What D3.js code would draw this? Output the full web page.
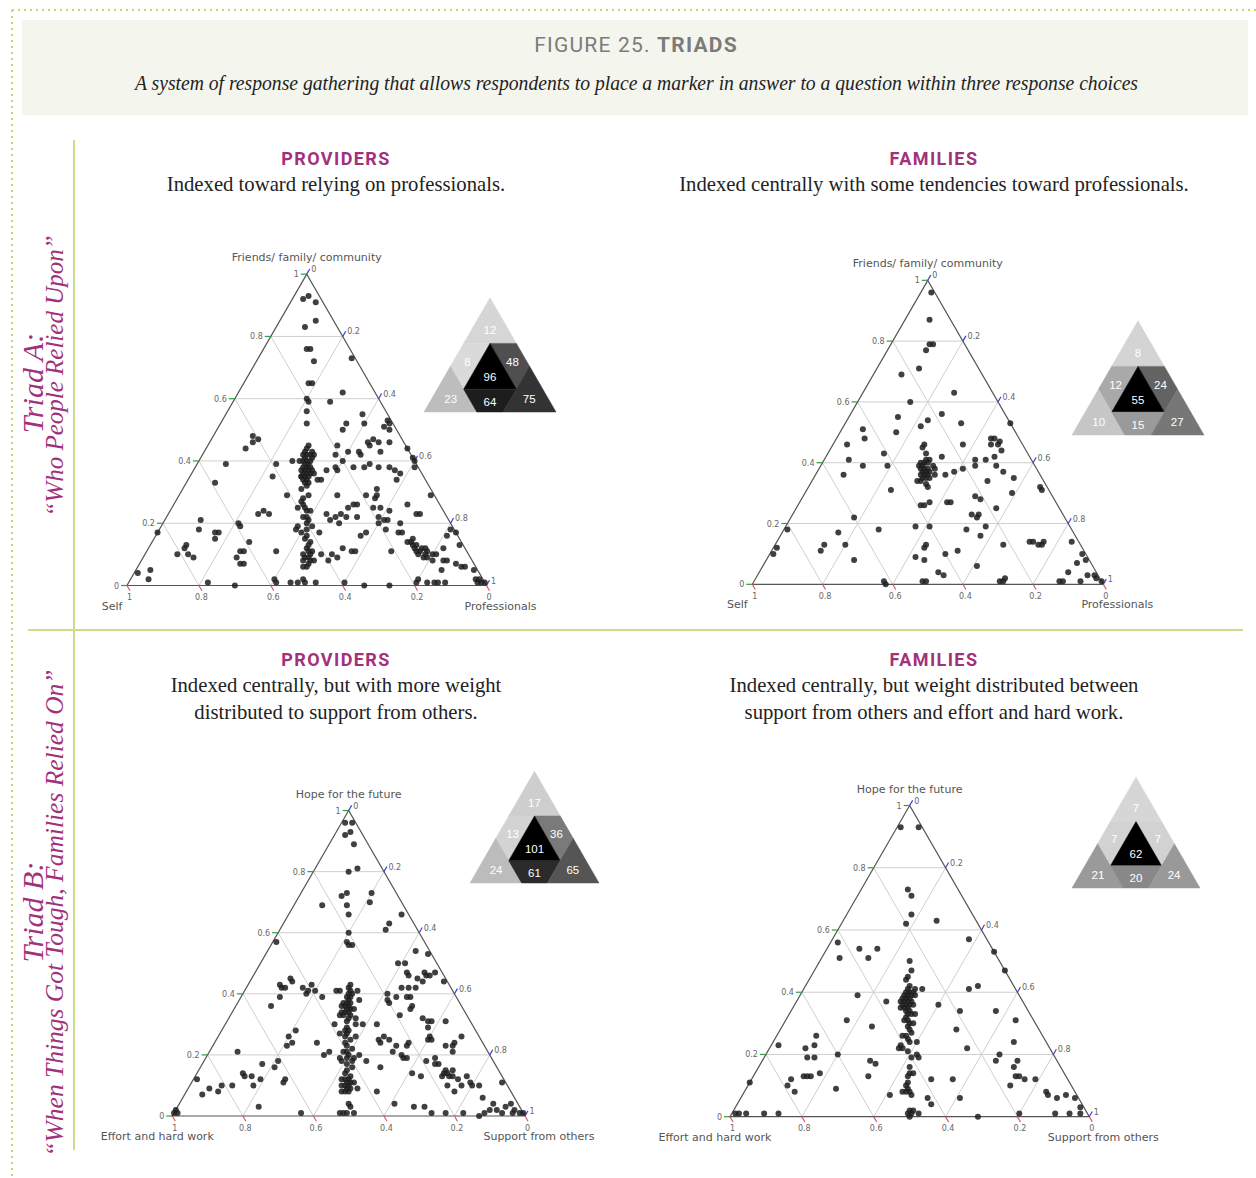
<!DOCTYPE html>
<html>
<head>
<meta charset="utf-8">
<script src="https://cdnjs.cloudflare.com/ajax/libs/d3/7.8.5/d3.min.js"></script>
<style>
  html, body { margin: 0; padding: 0; background: #fff; }
  svg { display: block; }
</style>
</head>
<body>
<svg id="fig"></svg>
<script>
// ---------------------------------------------------------------
// Data: each response is [top share %, right share %]; the left
// share is the remainder (100 - top - right).
// ---------------------------------------------------------------
const tickValues = [0, 0.2, 0.4, 0.6, 0.8, 1];

const triadAAxes = ["Friends/ family/ community", "Self", "Professionals"];
const triadBAxes = ["Hope for the future", "Effort and hard work", "Support from others"];

const rowHeadings = ["PROVIDERS", "FAMILIES"];
const triadADescriptions = [
  ["Indexed toward relying on professionals."],
  ["Indexed centrally with some tendencies toward professionals."]
];
const triadBDescriptions = [
  ["Indexed centrally, but with more weight", "distributed to support from others."],
  ["Indexed centrally, but weight distributed between", "support from others and effort and hard work."]
];

// zone counts: [top corner, left edge, right edge, centre, left corner, bottom edge, right corner]
const providersAZones = [12, 8, 48, 96, 23, 64, 75];
const familiesAZones  = [8, 12, 24, 55, 10, 15, 27];
const providersBZones = [17, 13, 36, 101, 24, 61, 65];
const familiesBZones  = [7, 7, 7, 62, 21, 20, 24];

const providersAPoints = [
  [92,3],[93,4],[91,7],[83,8],[85,10],[76,12],[76,13],[72,16],[65,18],[65,19],[73,26],[62,29],[60,20],[59,21],[59,27],
  [56,22],[52,24],[52,35],[50,35],[55,38],[52,40],[53,46],[52,47],[51,46],[50,48],[46,50],[47,45],[46,44],[45,45],[46,47],
  [43,49],[43,43],[42,44],[43,40],[45,36],[42,37],[40,40],[44,56],[41,59],[40,60],[38,61],[48,11],[47,13],[46,12],[44,11],
  [39,8],[33,8],[35,23],[39,22],[40,26],[40,28],
  [45,28],[43,28],[43,30],[42,28],[42,31],[40,29],[40,31],[38,31],[37,31],[37,32],[36,33],[35,32],[35,33],[36,34],[34,32],
  [33,34],[34,36],[34,37],[35,31],[32,34],[44,28],[42,30],[39,31],[36,31],[37,33],
  [41,29],[40,30],[39,30],[38,30],[38,32],[37,30],[36,32],[35,31],[34,33],[33,33],[42,29],[41,31],
  [37,37],[38,39],[37,40],[38,44],[38,47],[39,48],[38,51],[38,54],[37,56],[34,58],[36,58],[31,54],[29,55],[28,55],[29,52],
  [29,44],[26,50],[26,51],[25,49],[25,56],[25,58],[24,61],[26,65],[29,70],[23,69],[31,33],[29,36],[28,35],[25,37],[25,35],
  [24,38],[24,39],[22,39],[21,40],[22,38],[29,30],[24,26],[23,25],[23,28],[23,44],[22,47],[21,46],[23,48],[22,50],[22,53],
  [20,49],[22,59],[21,61],[21,62],[20,66],[23,70],[20,21],[19,22],[27,35],[26,36],[20,40],
  [21,10],[18,11],[17,16],[17,17],[15,17],[17,0],[13,10],[12,10],[10,9],[10,12],[9,14],[5,4],[4,1],[2,5],[1,22],[0,30],
  [11,26],[11,27],[9,26],[7,29],[7,28],[14,27],[11,36],[2,40],[1,41],[1,45],[1,47],[2,48],[1,49],[1,52],[19,38],[17,40],
  [18,41],[19,42],[17,45],[18,38],[15,42],[14,44],[13,44],[10,44],[9,45],[10,46],[8,47],[8,45],[7,47],[11,46],[10,49],
  [8,48],[6,47],[10,52],[12,54],[11,57],[11,58],[9,54],[8,52],[17,58],[16,57],[20,60],[18,63],[11,68],[17,67],[17,68],
  [16,42],[12,44],[11,45],[9,46],[6,46],
  [14,71],[14,72],[12,74],[13,74],[11,76],[12,76],[10,78],[11,78],[9,79],[10,80],[8,81],[8,84],[10,81],[12,82],[8,85],
  [11,75],[12,77],[10,76],[9,78],
  [16,81],[18,81],[17,83],[13,86],[5,85],[7,88],[6,90],[6,91],[5,94],[2,96],[2,97],[1,98],[1,97],[1,80],[2,80],[1,83],
  [1,85],[1,86],[1,88],[0,66],[0,73],[1,60],[1,99],[15,72],[13,73]
];

const familiesAPoints = [
  [96,3],[87,7],[79,11],[79,12],[77,11],[71,12],[69,8],[63,26],[60,15],[56,26],[54,23],[52,22],[53,33],[55,14],[50,16],
  [51,6],[48,8],[46,4],[41,7],[39,12],[36,8],[43,16],[39,19],[31,24],[46,37],[42,33],[37,39],[36,37],
  [46,26],[45,26],[43,28],[41,29],[41,30],[40,29],[38,29],[37,31],[39,32],[38,33],[36,32],[35,31],[35,33],[34,30],[33,33],
  [32,34],[36,34],[39,28],[40,30],[38,30],[37,30],[36,31],
  [40,28],[39,29],[38,31],[37,32],[36,30],[35,32],[34,31],
  [27,37],[26,35],[26,36],[27,42],[27,43],[29,49],[28,51],[23,51],[23,53],[22,53],[25,57],[19,57],[18,52],[16,57],[30,59],
  [32,66],[31,67],[53,47],[48,44],[48,45],[46,45],[46,47],[47,47],[44,49],[42,48],[39,50],[41,43],[41,46],[39,44],[38,41],
  [37,53],[35,57],[34,50],
  [22,18],[17,16],[13,14],[11,14],[13,20],[8,25],[18,1],[12,1],[10,1],[18,27],[19,37],[19,41],[13,43],[12,43],[9,42],
  [8,45],[10,50],[11,53],[4,51],[3,53],[1,48],[1,49],[6,61],[1,37],[0,38],[13,65],[1,70],[2,71],[1,71],[14,72],[14,73],
  [13,75],[13,76],[14,76],[14,84],[10,89],[7,89],[8,91],[4,88],[3,94],[3,96],[2,97],[1,93],[1,87],[1,88],[1,99]
];

const providersBPoints = [
  [96,1],[96,3],[93,4],[92,3],[89,7],[80,10],[81,12],[72,12],[73,13],[73,20],[70,21],[69,8],[69,15],[66,17],[66,32],
  [63,30],[61,30],[60,20],[57,21],[56,22],[56,23],[57,1],
  [54,42],[53,46],[50,39],[50,41],[47,43],[46,44],[45,47],[47,48],[46,49],[46,50],[47,51],[44,55],[44,49],[42,48],[42,46],
  [42,44],[39,48],[39,47],[39,44],[36,50],[35,50],[37,43],[33,48],[32,55],[31,57],[31,58],[29,58],[31,62],[26,60],[25,60],
  [25,61],[26,69],[24,68],[23,68],[23,66],[21,69],[19,65],[18,63],[17,66],[17,67],[14,70],[15,70],[14,71],[15,72],[13,70],
  [13,72],[13,73],[12,75],[13,77],[10,73],[8,76],[10,77],[11,79],[10,80],[10,82],[6,85],[11,88],[4,89],[3,93],[4,94],
  [2,89],[2,91],[1,93],[1,96],[2,96],[1,98],[1,99],[1,88],[0,87],[1,82],[1,77],[1,73],[3,70],[3,67],[4,61],[14,61],
  [13,64],[19,56],[19,57],[20,55],[23,55],[24,55],[23,52],[21,52],[25,46],[24,47],[26,47],[25,49],[30,43],[20,43],[18,46],
  [16,51],[8,54],[40,41],[38,42],
  [43,29],[42,29],[41,30],[41,26],[41,27],[41,32],[38,34],[39,30],[39,31],[37,31],[37,32],[36,30],[35,33],[35,34],[34,32],
  [33,34],[33,31],[32,34],[32,36],[30,31],[30,39],[30,37],[29,35],[28,36],[27,34],[27,36],[26,39],[26,36],[24,37],[23,38],
  [22,40],[21,38],[20,40],[19,38],[19,40],[18,39],[18,42],[16,43],[14,42],[13,44],[12,42],[11,44],[11,46],[10,43],[10,45],
  [9,45],[9,48],[8,46],[8,44],[4,48],[3,49],[1,51],[1,49],[1,47],[1,48],[1,36],
  [40,31],[36,32],[34,33],[31,34],[28,35],[25,38],[21,39],[17,41],[15,42],[12,44],[10,44],
  [40,30],[38,31],[37,30],[36,31],[35,32],[34,31],[33,32],[11,45],[12,43],[9,46],[8,45],
  [43,9],[45,11],[44,12],[42,10],[42,11],[39,11],[42,16],[41,18],[43,18],[41,20],[40,18],[39,23],[36,10],[28,21],[26,20],
  [23,21],[24,22],[24,29],[21,8],[17,17],[18,21],[16,21],[14,13],[13,14],[13,16],[12,19],[10,18],[12,26],[11,26],[10,12],
  [10,9],[8,9],[9,6],[7,5],[12,1],[2,0],[1,0],[1,1],[3,23],[21,34],[20,33],[19,42]
];

const familiesBPoints = [
  [93,1],[93,6],[73,13],[71,15],[65,18],[62,18],[63,26],[57,38],[53,47],[47,53],[56,2],[51,5],[54,9],[54,14],[51,13],
  [50,25],[47,27],[45,27],[44,27],
  [42,29],[41,29],[41,31],[40,29],[39,29],[39,31],[39,32],[41,33],[37,29],[36,30],[37,31],[36,32],[36,33],[35,30],[35,32],
  [34,33],[33,34],[33,35],[31,33],[30,35],[30,36],[27,37],[26,35],[26,36],[24,40],[23,36],[22,36],[22,37],[20,42],[19,43],
  [40,30],[40,31],[39,30],[38,30],[38,31],[38,29],[37,30],[37,32],[36,31],[35,31],[34,32],[33,33],[32,33],[31,34],[29,35],
  [28,36],[25,37],[24,38],[21,39],[19,41],[16,42],[14,44],[10,44],[9,45],[1,50],[2,50],
  [37,25],[39,16],[31,17],[29,25],[36,40],[34,47],[41,46],[42,48],[34,57],[31,64],[28,49],[22,55],[24,67],[20,65],[18,65],
  [18,71],[16,71],[13,73],[13,74],[12,76],[10,73],[12,79],[8,84],[7,85],[6,88],[7,90],[6,93],[3,96],[1,90],[1,94],[1,97],
  [1,80],[0,69],[12,56],[6,61],[12,50],[6,52],[4,54],[1,52],[0,50],[1,49],[2,49],[8,45],[8,44],[8,46],[7,47],[14,43],
  [13,43],[11,44],[7,41],[18,30],[17,32],[13,32],[20,20],[26,11],[23,12],[22,10],[23,2],[19,12],[19,14],[14,18],[13,14],
  [13,15],[13,16],[12,11],[10,11],[8,14],[9,25],[11,0],[1,4],[1,9],[1,13],[1,2],[1,1]
];

// ---------------------------------------------------------------
// Styling constants
// ---------------------------------------------------------------
const MAGENTA = "#a2317c";
const RULE = "#cddb8f";
const zoneShades = {
  providersA: ["#d6d6d6", "#dadada", "#4f4f4f", "#000000", "#bdbdbd", "#1d1d1d", "#333333"],
  familiesA:  ["#d4d4d4", "#a9a9a9", "#636363", "#000000", "#c6c6c6", "#9a9a9a", "#777777"],
  providersB: ["#cecece", "#d3d3d3", "#7a7a7a", "#000000", "#bcbcbc", "#2b2b2b", "#555555"],
  familiesB:  ["#d6d6d6", "#d2d2d2", "#d2d2d2", "#000000", "#9a9a9a", "#888888", "#999999"]
};

const W = 1256, H = 1178;
const svg = d3.select("#fig").attr("width", W).attr("height", H)
  .style("font-family", "'DejaVu Sans', sans-serif");

svg.append("rect").attr("width", W).attr("height", H).attr("fill", "#fff");

// dotted page frame
svg.append("line").attr("x1", 12).attr("y1", 10).attr("x2", W).attr("y2", 10)
  .attr("stroke", "#c9d670").attr("stroke-width", 2).attr("stroke-dasharray", "2,4");
svg.append("line").attr("x1", 12).attr("y1", 10).attr("x2", 12).attr("y2", H)
  .attr("stroke", "#c9d670").attr("stroke-width", 2).attr("stroke-dasharray", "2,4");

// header band
svg.append("rect").attr("x", 22).attr("y", 20).attr("width", 1226).attr("height", 95).attr("fill", "#f4f6ee");
const title = svg.append("text").attr("x", 636).attr("y", 52).attr("text-anchor", "middle")
  .style("font-family", "Roboto, sans-serif").style("font-size", "21px").style("letter-spacing", "1.2px")
  .attr("fill", "#7b7b7b");
title.append("tspan").text("FIGURE 25. ");
title.append("tspan").style("font-weight", "bold").text("TRIADS");

svg.append("text").attr("x", 135).attr("y", 90)
  .attr("textLength", 1003).attr("lengthAdjust", "spacingAndGlyphs")
  .style("font-family", "'Liberation Serif', serif").style("font-style", "italic").style("font-size", "20px")
  .attr("fill", "#222")
  .text("A system of response gathering that allows respondents to place a marker in answer to a question within three response choices");

// section rules
svg.append("line").attr("x1", 74).attr("y1", 140).attr("x2", 74).attr("y2", 1150)
  .attr("stroke", RULE).attr("stroke-width", 2);
svg.append("line").attr("x1", 28).attr("y1", 630).attr("x2", 1243).attr("y2", 630)
  .attr("stroke", RULE).attr("stroke-width", 2);

// rotated section labels
function sideLabel(x, y, text, size) {
  svg.append("text").attr("transform", `translate(${x},${y}) rotate(-90)`).attr("text-anchor", "middle")
    .style("font-family", "'Liberation Serif', serif").style("font-style", "italic")
    .style("font-size", size + "px").attr("fill", MAGENTA).text(text);
}
sideLabel(43, 383, "Triad A:", 30);
sideLabel(63, 376, "\u201CWho People Relied Upon\u201D", 25);
sideLabel(43, 912, "Triad B:", 30);
sideLabel(63, 913, "\u201CWhen Things Got Tough, Families Relied On\u201D", 25.5);

// panel headings and descriptions
function heading(cx, y, head, lines) {
  svg.append("text").attr("x", cx).attr("y", y).attr("text-anchor", "middle")
    .style("font-family", "Roboto, sans-serif").style("font-weight", "bold").style("font-size", "18px")
    .style("letter-spacing", "1.4px").attr("fill", MAGENTA).text(head);
  lines.forEach((ln, i) => {
    svg.append("text").attr("x", cx).attr("y", y + 26 + i * 27).attr("text-anchor", "middle")
      .style("font-family", "'Liberation Serif', serif").style("font-size", "20.7px")
      .attr("fill", "#222").text(ln);
  });
}
heading(336, 165, rowHeadings[0], triadADescriptions[0]);
heading(934, 165, rowHeadings[1], triadADescriptions[1]);
heading(336, 666, rowHeadings[0], triadBDescriptions[0]);
heading(934, 666, rowHeadings[1], triadBDescriptions[1]);

// ---------------------------------------------------------------
// Ternary scatter
// ---------------------------------------------------------------
function ternaryFrame(cfg) {
  const side = cfg.x1 - cfg.x0;
  const h = side * Math.sqrt(3) / 2;
  const xs = d3.scaleLinear().domain([0, 1]).range([cfg.x0, cfg.x1]);
  const ys = d3.scaleLinear().domain([0, 1]).range([cfg.base, cfg.base - h]);
  // a = top, b = left, c = right
  return (a, b, c) => [xs(c + a / 2), ys(a)];
}

function drawTernary(cfg, points, axes) {
  const g = svg.append("g");
  const proj = ternaryFrame(cfg);
  const line = d3.line();

  // grid
  const grid = g.append("g").attr("stroke", "#cfcfcf").attr("stroke-width", 1).attr("fill", "none");
  tickValues.filter(v => v > 0 && v < 1).forEach(v => {
    grid.append("path").attr("d", line([proj(v, 1 - v, 0), proj(v, 0, 1 - v)]));
    grid.append("path").attr("d", line([proj(1 - v, v, 0), proj(0, v, 1 - v)]));
    grid.append("path").attr("d", line([proj(1 - v, 0, v), proj(0, 1 - v, v)]));
  });

  // outline
  g.append("path").attr("d", line([proj(1, 0, 0), proj(0, 1, 0), proj(0, 0, 1)]) + "Z")
    .attr("fill", "none").attr("stroke", "#555").attr("stroke-width", 1.2);

  // ticks and tick labels
  const tl = g.append("g").style("font-size", "8px").attr("fill", "#666");
  const fmt = d3.format("~g");
  tickValues.forEach(v => {
    let p = proj(v, 1 - v, 0);
    g.append("path").attr("d", line([p, [p[0] - 6, p[1]]])).attr("stroke", "#2f9e44").attr("stroke-width", 1.2);
    tl.append("text").attr("x", p[0] - 8).attr("y", p[1] + 3).attr("text-anchor", "end").text(fmt(v));

    p = proj(0, v, 1 - v);
    g.append("path").attr("d", line([p, [p[0] + 3, p[1] + 5.2]])).attr("stroke", "#e05a5a").attr("stroke-width", 1.2);
    tl.append("text").attr("x", p[0] + 2.5).attr("y", p[1] + 14.5).attr("text-anchor", "middle").text(fmt(v));

    p = proj(1 - v, 0, v);
    g.append("path").attr("d", line([p, [p[0] + 3, p[1] - 5.2]])).attr("stroke", "#3b3bdb").attr("stroke-width", 1.2);
    tl.append("text").attr("x", p[0] + 4.5).attr("y", p[1] - 2).attr("text-anchor", "start").text(fmt(v));
  });

  // axis titles
  const at = g.append("g").style("font-size", "11px").attr("fill", "#555").attr("text-anchor", "middle");
  const top = proj(1, 0, 0), left = proj(0, 1, 0), right = proj(0, 0, 1);
  at.append("text").attr("x", top[0]).attr("y", top[1] - 13).text(axes[0]);
  at.append("text").attr("x", left[0] - 15).attr("y", left[1] + 24).text(axes[1]);
  at.append("text").attr("x", right[0] + 14).attr("y", right[1] + 24).text(axes[2]);

  // responses
  g.append("g").selectAll("circle").data(points).join("circle")
    .attr("cx", d => proj(d[0] / 100, (100 - d[0] - d[1]) / 100, d[1] / 100)[0])
    .attr("cy", d => proj(d[0] / 100, (100 - d[0] - d[1]) / 100, d[1] / 100)[1])
    .attr("r", 3).attr("fill", "#1e1e1e").attr("fill-opacity", 0.85);
}

// ---------------------------------------------------------------
// Zone summary triangle
// ---------------------------------------------------------------
const zonePolygons = [
  [[1, 0, 0], [0.6, 0.4, 0], [0.6, 0, 0.4]],                       // top corner
  [[0.6, 0.4, 0], [0.4, 0.6, 0], [0.2, 0.6, 0.2], [0.6, 0.2, 0.2]],  // left edge
  [[0.6, 0, 0.4], [0.6, 0.2, 0.2], [0.2, 0.2, 0.6], [0.4, 0, 0.6]],  // right edge
  [[0.6, 0.2, 0.2], [0.2, 0.6, 0.2], [0.2, 0.2, 0.6]],             // centre
  [[0, 1, 0], [0.4, 0.6, 0], [0, 0.6, 0.4]],                       // left corner
  [[0, 0.6, 0.4], [0.2, 0.6, 0.2], [0.2, 0.2, 0.6], [0, 0.4, 0.6]],  // bottom edge
  [[0, 0, 1], [0.4, 0, 0.6], [0, 0.4, 0.6]]                        // right corner
];
const zoneLabelAt = [
  [0.72, 0.14, 0.14], [0.44, 0.45, 0.11], [0.44, 0.11, 0.45], [0.31, 0.345, 0.345],
  [0.115, 0.74, 0.145], [0.09, 0.455, 0.455], [0.115, 0.145, 0.74]
];

function drawZones(cfg, counts, shades) {
  const g = svg.append("g");
  const proj = ternaryFrame(cfg);
  const line = d3.line();
  g.selectAll("path").data(zonePolygons).join("path")
    .attr("d", d => line(d.map(p => proj(...p))) + "Z")
    .attr("fill", (d, i) => shades[i]).attr("stroke", (d, i) => shades[i]).attr("stroke-width", 0.5);
  g.selectAll("text").data(counts).join("text")
    .attr("x", (d, i) => proj(...zoneLabelAt[i])[0])
    .attr("y", (d, i) => proj(...zoneLabelAt[i])[1])
    .attr("dy", "0.36em").attr("text-anchor", "middle")
    .style("font-family", "'Liberation Sans', Arial, sans-serif").style("font-size", "11.5px")
    .attr("fill", "#fff").text(d => d);
}

drawTernary({ x0: 127, x1: 486.5, base: 585.5 }, providersAPoints, triadAAxes);
drawTernary({ x0: 752.3, x1: 1103.3, base: 584.3 }, familiesAPoints, triadAAxes);
drawTernary({ x0: 172.3, x1: 525, base: 1116 }, providersBPoints, triadBAxes);
drawTernary({ x0: 730, x1: 1089.3, base: 1116.7 }, familiesBPoints, triadBAxes);

drawZones({ x0: 424, x1: 556, base: 412 }, providersAZones, zoneShades.providersA);
drawZones({ x0: 1072, x1: 1204, base: 435 }, familiesAZones, zoneShades.familiesA);
drawZones({ x0: 470, x1: 599, base: 883 }, providersBZones, zoneShades.providersB);
drawZones({ x0: 1072, x1: 1200, base: 888 }, familiesBZones, zoneShades.familiesB);
</script>
</body>
</html>
